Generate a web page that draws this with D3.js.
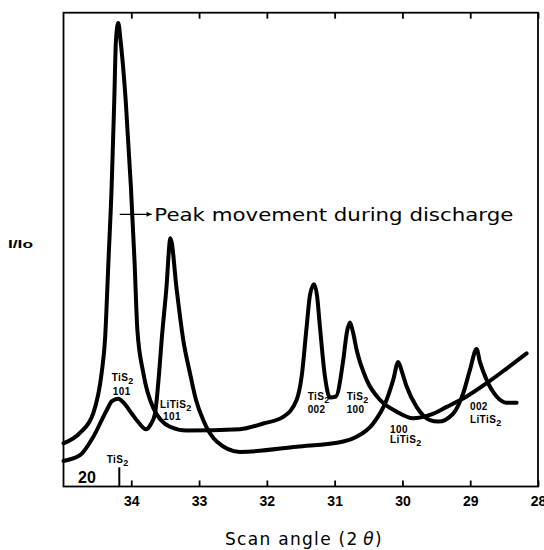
<!DOCTYPE html>
<html>
<head>
<meta charset="utf-8">
<script src="https://cdn.jsdelivr.net/npm/d3@7"></script>
<style>
  body { margin: 0; background: #fff; }
  svg { display: block; }
  .tick text { font-family: "Liberation Sans", Arial, sans-serif; font-weight: bold; font-size: 14px; }
  .lbl { font-family: "Liberation Sans", Arial, sans-serif; font-weight: bold; font-size: 10px; letter-spacing: 0.4px; }
</style>
</head>
<body>
<svg id="xrd"></svg>
<script>
// x ticks (scan angle, 2 theta, degrees, axis reversed)
const tick_angles = [34, 33, 32, 31, 30, 29, 28];

// curve 1: TiS2 side (large 101 peak, 002 and 100 peaks)
const angle_a = [35.0, 34.757, 34.56, 34.437, 34.388, 34.336, 34.289, 34.251, 34.226, 34.192,
  34.159, 34.083, 34.007, 33.953, 33.91, 33.823, 33.676, 33.429, 33.183, 32.397, 32.053,
  31.758, 31.56, 31.487, 31.413, 31.364, 31.305, 31.261, 31.217, 31.143, 31.07, 30.981,
  30.873, 30.819, 30.774, 30.73, 30.675, 30.528, 30.332, 30.086, 29.841, 29.594, 29.348,
  29.053, 28.758, 28.463, 28.168];
const inten_a = [9.1, 11.3, 15.5, 24.0, 30.9, 47.8, 63.6, 81.6, 94.2, 97.8,
  94.2, 81.6, 63.6, 47.8, 33.0, 24.0, 16.6, 12.6, 11.8, 12.1, 13.3,
  14.7, 18.3, 23.2, 33.7, 40.4, 42.7, 40.4, 33.7, 23.2, 18.8, 19.0,
  26.7, 32.6, 34.6, 32.6, 28.8, 22.5, 18.3, 15.8, 14.4, 15.1, 16.8,
  19.0, 21.8, 24.9, 28.1];

// curve 2: LiTiS2 side (shifted peaks)
const angle_b = [35.0, 34.757, 34.56, 34.363, 34.285, 34.192, 34.108, 33.994, 33.886, 33.783,
  33.71, 33.65, 33.59, 33.552, 33.484, 33.422, 33.33, 33.233, 33.134, 33.046, 32.938,
  32.74, 32.397, 31.56, 30.873, 30.675, 30.431, 30.233, 30.136, 30.062, 30.007, 29.938,
  29.791, 29.594, 29.472, 29.251, 29.103, 29.004, 28.906, 28.857, 28.758, 28.611,
  28.463, 28.316];
const inten_b = [5.4, 6.6, 10.5, 16.1, 18.0, 18.5, 17.6, 15.4, 13.4, 12.1,
  13.2, 15.4, 23.9, 30.9, 41.5, 52.4, 41.5, 30.9, 23.9, 18.3, 14.0,
  9.5, 7.3, 8.4, 9.5, 10.5, 13.3, 18.3, 22.5, 26.3, 24.2, 21.1,
  16.8, 14.0, 13.7, 15.4, 19.7, 24.6, 29.0, 26.3, 22.5, 19.0,
  17.7, 17.7];

const width = 544, height = 550;
const margin = { top: 12.7, bottom: 63.5, left: 63.5, right: 6 };

const svg = d3.select("#xrd").attr("width", width).attr("height", height);

const X = d3.scaleLinear().domain([35, 28]).range([margin.left, width - margin.right]);
const Y = d3.scaleLinear().domain([0, 100]).range([height - margin.bottom, margin.top]);

// frame
svg.append("rect")
  .attr("x", X(35)).attr("y", Y(100))
  .attr("width", X(28) - X(35)).attr("height", Y(0) - Y(100))
  .attr("fill", "none").attr("stroke", "#000").attr("stroke-width", 1.8);

// bottom ticks (inward) with labels
const xAxis = d3.axisBottom(X).tickValues(tick_angles).tickFormat(d3.format("d"))
  .tickSizeInner(-6).tickSizeOuter(0).tickPadding(10);
const gx = svg.append("g").attr("transform", `translate(0,${Y(0)})`).call(xAxis);
gx.select(".domain").remove();
gx.selectAll(".tick line").attr("stroke-width", 1.8);

// top ticks (inward), no labels
const xTop = d3.axisTop(X).tickValues(tick_angles).tickFormat("")
  .tickSizeInner(-6).tickSizeOuter(0);
const gt = svg.append("g").attr("transform", `translate(0,${Y(100)})`).call(xTop);
gt.select(".domain").remove();
gt.selectAll(".tick line").attr("stroke-width", 1.8);

// curves
const line = d3.line().x((d) => X(d[0])).y((d) => Y(d[1])).curve(d3.curveMonotoneX);
const curves = [d3.zip(angle_a, inten_a), d3.zip(angle_b, inten_b)];
svg.append("g").selectAll("path").data(curves).join("path")
  .attr("d", line)
  .attr("fill", "none").attr("stroke", "#000").attr("stroke-width", 4)
  .attr("stroke-linejoin", "round").attr("stroke-linecap", "round");

// TiS2 reference marker
svg.append("line")
  .attr("x1", X(34.177)).attr("x2", X(34.177))
  .attr("y1", Y(0)).attr("y2", Y(4.05))
  .attr("stroke", "#000").attr("stroke-width", 2);

// peak labels, [angle, intensity, text, subscript]
const labels = [
  [34.289, 22.2, "TiS", "2"], [34.274, 19.4, "101", ""],
  [33.577, 16.57, "LiTiS", "2"], [33.532, 14.04, "101", ""],
  [31.398, 18.26, "TiS", "2"], [31.398, 15.51, "002", ""],
  [30.823, 18.26, "TiS", "2"], [30.823, 15.51, "100", ""],
  [30.184, 11.36, "100", ""], [30.184, 9.18, "LiTiS", "2"],
  [29.004, 16.15, "002", ""], [29.004, 13.40, "LiTiS", "2"],
  [34.363, 4.96, "TiS", "2"],
];
const lg = svg.append("g");
for (const l of labels) {
  const t = lg.append("text").attr("class", "lbl")
    .attr("x", X(l[0])).attr("y", Y(l[1])).text(l[2]);
  if (l[3]) t.append("tspan").attr("dy", 3).style("font-size", "9px").text(l[3]);
}

svg.append("text")
  .attr("x", X(34.786)).attr("y", Y(0.74))
  .style("font-family", "Liberation Sans, Arial, sans-serif")
  .style("font-weight", "bold").style("font-size", "16px")
  .text("20");

// annotation arrow
svg.append("defs").append("marker")
  .attr("id", "ah").attr("viewBox", "0 0 10 10")
  .attr("refX", 10).attr("refY", 5)
  .attr("markerWidth", 7).attr("markerHeight", 5)
  .attr("markerUnits", "userSpaceOnUse")
  .attr("orient", "auto")
  .append("path").attr("d", "M0,0 L10,5 L0,10 Z").attr("fill", "#000");

svg.append("line")
  .attr("x1", X(34.17)).attr("x2", X(33.70))
  .attr("y1", Y(57.45)).attr("y2", Y(57.45))
  .attr("stroke", "#000").attr("stroke-width", 1.3)
  .attr("marker-end", "url(#ah)");

svg.append("text")
  .attr("x", X(33.66)).attr("y", Y(56.1))
  .attr("textLength", 359).attr("lengthAdjust", "spacingAndGlyphs")
  .style("font-family", "DejaVu Sans, sans-serif").style("font-size", "17px")
  .text("Peak movement during discharge");

// axis titles
svg.append("text")
  .attr("x", 8).attr("y", 248)
  .attr("textLength", 25).attr("lengthAdjust", "spacingAndGlyphs")
  .style("font-family", "Liberation Sans, Arial, sans-serif")
  .style("font-weight", "bold").style("font-size", "11px")
  .text("I/Io");

const xt = svg.append("text")
  .attr("x", 304).attr("y", 545).attr("text-anchor", "middle")
  .style("font-family", "DejaVu Sans, sans-serif").style("font-size", "17px")
  .style("letter-spacing", "1.3px")
  .text("Scan angle (2\u2009");
xt.append("tspan").style("font-style", "italic").text("\u03b8");
xt.append("tspan").text(")");
</script>
</body>
</html>
